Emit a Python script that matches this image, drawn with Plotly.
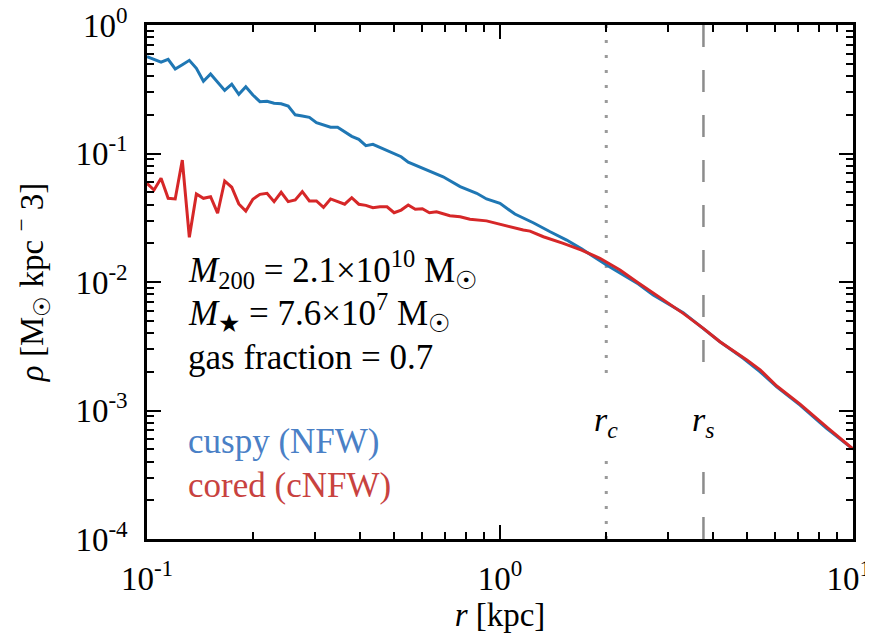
import math
import plotly.graph_objects as go

# ---- data ----
r_cuspy = [0.1, 0.1047, 0.1096, 0.1148, 0.1202, 0.1259, 0.1318, 0.1380, 0.1445, 0.1514,
           0.1585, 0.1660, 0.1738, 0.1820, 0.1905, 0.1995, 0.2089, 0.2188, 0.2291, 0.2399,
           0.2512, 0.2630, 0.2754, 0.2884, 0.3020, 0.3162, 0.3311, 0.3467, 0.3631, 0.3802,
           0.3981, 0.4169, 0.4365, 0.4571, 0.4786, 0.5012, 0.5248, 0.5495,
           0.607, 0.690, 0.771, 0.859, 0.916, 1.0, 1.102, 1.242, 1.387, 1.545, 1.702,
           2.004, 2.466, 2.716, 3.304, 3.767, 4.198, 4.887, 5.458, 6.081, 7.079, 8.414, 10.0]
rho_cuspy = [0.566, 0.540, 0.513, 0.541, 0.455, 0.491, 0.531, 0.460, 0.365, 0.416,
             0.358, 0.310, 0.346, 0.289, 0.331, 0.285, 0.253, 0.255, 0.246, 0.244,
             0.234, 0.200, 0.196, 0.191, 0.174, 0.167, 0.160, 0.160, 0.147, 0.136,
             0.129, 0.115, 0.118, 0.112, 0.106, 0.1005, 0.0944, 0.0855,
             0.0767, 0.0659, 0.0552, 0.0490, 0.0443, 0.0409, 0.0338, 0.0289, 0.0246, 0.0212, 0.0181,
             0.01355, 0.00964, 0.00793, 0.00577, 0.00436, 0.00343, 0.00255, 0.00200, 0.00153,
             0.00110, 0.000726, 0.000501]

r_cored = [0.1, 0.1047, 0.1096, 0.1148, 0.1202, 0.1259, 0.1318, 0.1380, 0.1445, 0.1514,
           0.1585, 0.1660, 0.1738, 0.1820, 0.1905, 0.1995, 0.2089, 0.2188, 0.2291, 0.2399,
           0.2512, 0.2630, 0.2754, 0.2884, 0.3020, 0.3162, 0.3311, 0.3467, 0.3631, 0.3802,
           0.3981, 0.4169, 0.4365, 0.4571, 0.4786, 0.5012, 0.5248, 0.5495, 0.5754, 0.6026,
           0.631, 0.661, 0.721, 0.771, 0.822, 0.916, 1.0, 1.102, 1.164, 1.216, 1.327, 1.511,
           1.702, 1.919, 2.026, 2.188, 2.438, 2.716, 3.304, 3.767, 4.198, 5.003, 5.458,
           6.081, 7.079, 8.511, 10.0]
rho_cored = [0.0586, 0.0520, 0.0641, 0.0448, 0.0443, 0.0889, 0.0223, 0.0484, 0.0448, 0.0461,
             0.0343, 0.0611, 0.0546, 0.0405, 0.0357, 0.0441, 0.0481, 0.0490, 0.0422, 0.0499,
             0.0422, 0.0435, 0.0505, 0.0427, 0.0427, 0.0381, 0.0443, 0.0422, 0.0403, 0.0453,
             0.0403, 0.0395, 0.0378, 0.0385, 0.0385, 0.0346, 0.0363, 0.0397, 0.0368, 0.0372,
             0.0346, 0.0352, 0.0328, 0.0322, 0.0308, 0.0299, 0.0281, 0.0265, 0.0254, 0.0249,
             0.0225, 0.0200, 0.0177, 0.0153, 0.0140, 0.0124, 0.01005, 0.00817, 0.00570,
             0.00436, 0.00343, 0.00247, 0.00207, 0.00155, 0.00112, 0.000726, 0.000501]

r_core = 2.0
r_scale = 3.77

x_tickvals = [0.1, 1, 10]
x_ticktext = ["10<sup>-1</sup>", "10<sup>0</sup>", "10<sup>1</sup>\u00a0"]
y_tickvals = [1e-4, 1e-3, 1e-2, 1e-1, 1]
y_ticktext = ["10<sup>-4</sup>", "10<sup>-3</sup>", "10<sup>-2</sup>", "10<sup>-1</sup>", "10<sup>0</sup>"]

# ---- styling ----
SERIF = "Liberation Serif, Times New Roman, DejaVu Serif, serif"
BLUE = "#1f77b4"
RED = "#d62728"
fs = 35
tfs = 33

fig = go.Figure()
fig.add_trace(go.Scatter(x=r_cuspy, y=rho_cuspy, mode="lines",
                         line=dict(color=BLUE, width=3), name="cuspy (NFW)"))
fig.add_trace(go.Scatter(x=r_cored, y=rho_cored, mode="lines",
                         line=dict(color=RED, width=3), name="cored (cNFW)"))

# vertical marker lines with gaps for labels
gap_top = 0.3035
gap_bot = 0.163
for xv, col, w, dash in [(r_core, "#9a9a9a", 3, "3px,12px"), (r_scale, "#8c8c8c", 2.5, "22px,23px")]:
    fig.add_shape(type="line", xref="x", yref="paper", x0=xv, x1=xv, y0=1, y1=gap_top,
                  line=dict(color=col, width=w, dash=dash), layer="below")
    fig.add_shape(type="line", xref="x", yref="paper", x0=xv, x1=xv, y0=0, y1=gap_bot,
                  line=dict(color=col, width=w, dash=dash), layer="below")

fig.add_annotation(x=math.log10(r_core), y=0.228, xref="x", yref="paper", showarrow=False,
                   text="<i>r<sub>c</sub></i>", font=dict(family=SERIF, size=34, color="black"),
                   xanchor="center", yanchor="middle")
fig.add_annotation(x=math.log10(r_scale), y=0.228, xref="x", yref="paper", showarrow=False,
                   text="<i>r<sub>s</sub></i>", font=dict(family=SERIF, size=34, color="black"),
                   xanchor="center", yanchor="middle")

info_lines = [
    ("<i>M</i><sub>200</sub> = 2.1×10<sup>10</sup> M<sub>☉</sub>", 0.524, "black"),
    ("<i>M</i><sub>★</sub> = 7.6×10<sup>7</sup> M<sub>☉</sub>", 0.441, "black"),
    ("gas fraction = 0.7", 0.353, "black"),
    ("cuspy (NFW)", 0.19, "#4a80c6"),
    ("cored (cNFW)", 0.104, "#c8423f"),
]
for txt, yy, col in info_lines:
    fig.add_annotation(x=0.055, y=yy, xref="paper", yref="paper", showarrow=False,
                       text=txt, font=dict(family=SERIF, size=fs, color=col),
                       xanchor="left", yanchor="middle", align="left")

axis_common = dict(type="log", ticks="inside", ticklen=14, tickwidth=2, tickcolor="black",
                   mirror="allticks", showline=True, linewidth=2.5, linecolor="black",
                   showgrid=False, zeroline=False, ticklabeloverflow="allow",
                   minor=dict(ticks="inside", ticklen=7, tickwidth=1.5, tickcolor="black",
                              dtick="D1", showgrid=False),
                   tickfont=dict(family=SERIF, size=tfs, color="black"))

fig.update_xaxes(**axis_common, range=[-1, 1], tickmode="array",
                 tickvals=x_tickvals, ticktext=x_ticktext, ticklabelstandoff=9,
                 title=dict(text="<i>r</i> [kpc]", font=dict(family=SERIF, size=tfs, color="black"),
                            standoff=0))
fig.update_yaxes(**axis_common, range=[-4, 0], tickmode="array",
                 tickvals=y_tickvals, ticktext=y_ticktext, ticklabelstandoff=10,
                 title=dict(text="<i>ρ</i> [M<sub>☉</sub> kpc <sup>−</sup> 3]",
                            font=dict(family=SERIF, size=tfs, color="black"), standoff=26))

# page body has an 8px margin: size the figure so the plot area lands where the reference has it
fig.update_layout(width=865, height=630, margin=dict(l=139, r=20, t=17, b=99, autoexpand=False),
                  plot_bgcolor="white", paper_bgcolor="white", showlegend=False)

fig.write_html("out.html")
